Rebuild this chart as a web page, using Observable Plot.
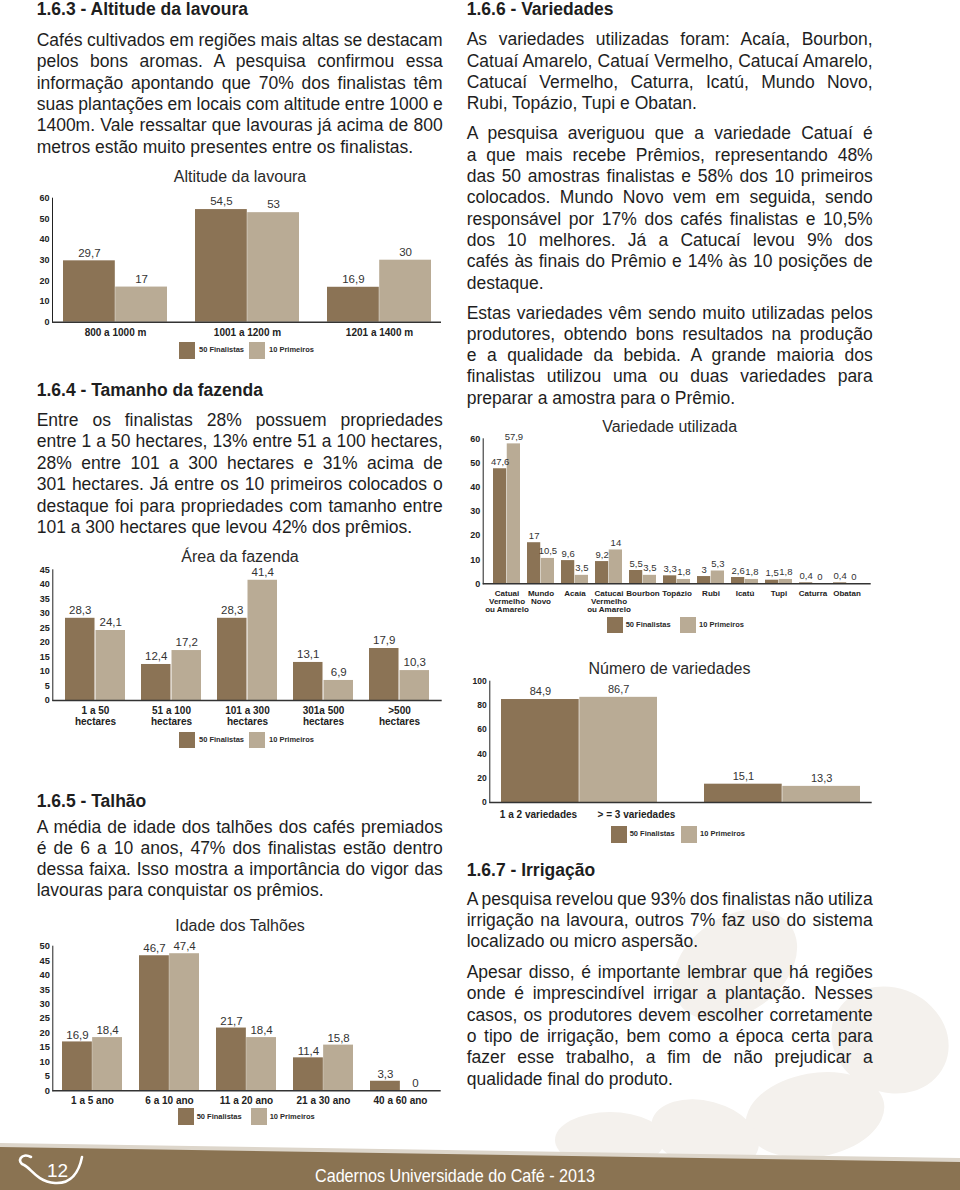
<!DOCTYPE html>
<html><head><meta charset="utf-8">
<script src="https://cdn.jsdelivr.net/npm/d3@7"></script>
<script src="https://cdn.jsdelivr.net/npm/@observablehq/plot@0.6"></script>
<style>
html,body{margin:0;padding:0;background:#fff;}
#page{position:relative;width:960px;height:1190px;overflow:hidden;font-family:"Liberation Sans",Arial,sans-serif;color:#1e1e1e;}
.line{position:absolute;white-space:nowrap;font-size:17.5px;height:22px;line-height:22px;}
.head{font-weight:bold;}
.title{position:absolute;width:400px;text-align:center;font-size:16px;line-height:20px;height:20px;color:#2a2a2a;white-space:nowrap;}
.sq{position:absolute;}
.lgt{position:absolute;font-size:7.5px;font-weight:bold;line-height:12px;height:12px;white-space:nowrap;color:#2a2a2a;}
.chart{position:absolute;}
</style></head><body><div id="page"></div>
<script>
// ---------- data ----------
const series = ["50 Finalistas", "10 Primeiros"];

const altCats = ["800 a 1000 m", "1001 a 1200 m", "1201 a 1400 m"];
const altFin = [29.7, 54.5, 16.9];
const altPri = [17, 53, 30];

const areaCats = ["1 a 50\nhectares", "51 a 100\nhectares", "101 a 300\nhectares", "301a 500\nhectares", ">500\nhectares"];
const areaFin = [28.3, 12.4, 28.3, 13.1, 17.9];
const areaPri = [24.1, 17.2, 41.4, 6.9, 10.3];

const idadeCats = ["1 a 5 ano", "6 a 10 ano", "11 a 20 ano", "21 a 30 ano", "40 a 60 ano"];
const idadeFin = [16.9, 46.7, 21.7, 11.4, 3.3];
const idadePri = [18.4, 47.4, 18.4, 15.8, 0];

const varCats = ["Catuai\nVermelho\nou Amarelo", "Mundo\nNovo", "Acaía", "Catucai\nVermelho\nou Amarelo", "Bourbon", "Topázio", "Rubi", "Icatú", "Tupi", "Caturra", "Obatan"];
const varFin = [47.6, 17, 9.6, 9.2, 5.5, 3.3, 3, 2.6, 1.5, 0.4, 0.4];
const varPri = [57.9, 10.5, 3.5, 14, 3.5, 1.8, 5.3, 1.8, 1.8, 0, 0];

const numCats = ["1 a 2 variedades", "> = 3 variedades"];
const numFin = [84.9, 15.1];
const numPri = [86.7, 13.3];

// ---------- text ----------
const txt163 = ["Cafés cultivados em regiões mais altas se destacam","pelos bons aromas. A pesquisa confirmou essa","informação apontando que 70% dos finalistas têm","suas plantações em locais com altitude entre 1000 e","1400m. Vale ressaltar que lavouras já acima de 800","metros estão muito presentes entre os finalistas."];
const txt164 = ["Entre os finalistas 28% possuem propriedades","entre 1 a 50 hectares, 13% entre 51 a 100 hectares,","28% entre 101 a 300 hectares e 31% acima de","301 hectares. Já entre os 10 primeiros colocados o","destaque foi para propriedades com tamanho entre","101 a 300 hectares que levou 42% dos prêmios."];
const txt165 = ["A média de idade dos talhões dos cafés premiados","é de 6 a 10 anos, 47% dos finalistas estão dentro","dessa faixa. Isso mostra a importância do vigor das","lavouras para conquistar os prêmios."];
const txt166a = ["As variedades utilizadas foram: Acaía, Bourbon,","Catuaí Amarelo, Catuaí Vermelho, Catucaí Amarelo,","Catucaí Vermelho, Caturra, Icatú, Mundo Novo,","Rubi, Topázio, Tupi e Obatan."];
const txt166b = ["A pesquisa averiguou que a variedade Catuaí é","a que mais recebe Prêmios, representando 48%","das 50 amostras finalistas e 58% dos 10 primeiros","colocados. Mundo Novo vem em seguida, sendo","responsável por 17% dos cafés finalistas e 10,5%","dos 10 melhores.  Já a Catucaí levou 9% dos","cafés às finais do Prêmio e 14% às 10 posições de","destaque."];
const txt166c = ["Estas variedades vêm sendo muito utilizadas pelos","produtores, obtendo bons resultados na produção","e a qualidade da bebida. A grande maioria dos","finalistas utilizou uma ou duas variedades para","preparar a amostra para o Prêmio."];
const txt167a = ["A pesquisa revelou que 93% dos finalistas não utiliza","irrigação na lavoura, outros 7% faz uso do sistema","localizado ou micro aspersão."];
const txt167b = ["Apesar disso, é importante lembrar que há regiões","onde é imprescindível irrigar a plantação. Nesses","casos, os produtores devem escolher corretamente","o tipo de irrigação, bem como a época certa para","fazer esse trabalho, a fim de não prejudicar a","qualidade final do produto."];

const DARK = "#8b7355", LIGHT = "#b9ab95", AXIS = "#333";
const page = document.getElementById("page");

// ---------- background decoration ----------
const deco = document.createElementNS("http://www.w3.org/2000/svg","svg");
deco.setAttribute("width","960"); deco.setAttribute("height","1190");
deco.style.position="absolute"; deco.style.left="0"; deco.style.top="0";
deco.innerHTML = `
<g fill="#f4f1ed">
<ellipse cx="735" cy="965" rx="68" ry="48" transform="rotate(-35 735 965)"/>
<ellipse cx="890" cy="1040" rx="60" ry="52" transform="rotate(25 890 1040)"/>
<ellipse cx="815" cy="1115" rx="70" ry="42" transform="rotate(-10 815 1115)"/>
<ellipse cx="610" cy="1140" rx="55" ry="28"/>
<ellipse cx="705" cy="1135" rx="55" ry="34" transform="rotate(15 705 1135)"/>
</g>
<polygon points="0,1143 960,1158 960,1163 0,1148" fill="#ddd6cb"/>
<polygon points="0,1147 960,1162 960,1190 0,1190" fill="#8a7352"/>
<path d="M31,1157 C21,1152 16,1162 24,1165 C31,1168 36,1181 55,1183 C71,1184 79,1172 82,1157" stroke="#fff" stroke-width="2.6" fill="none" stroke-linecap="round"/>
`;
page.appendChild(deco);

function addDiv(cls, text, left, top, extra) {
  const d = document.createElement("div");
  d.className = cls; d.textContent = text;
  d.style.left = left + "px"; d.style.top = top + "px";
  if (extra) Object.assign(d.style, extra);
  page.appendChild(d);
  return d;
}

// footer texts
addDiv("line", "12", 47, 1160, {color:"#fff", fontSize:"19px"});
const foot = addDiv("line", "Cadernos Universidade do Café - 2013", 0, 1165, {color:"#fff", fontSize:"18.5px", transformOrigin:"0 50%"});
{ const w = foot.getBoundingClientRect().width; const s = 280 / w; foot.style.transform = `scaleX(${s})`; foot.style.left = (315) + "px"; }

// ---------- text blocks ----------
function heading(text, x, cy) { addDiv("line head", text, x, cy - 11); }
function paragraph(lines, x, width, cy0, lh) {
  lines.forEach((t, i) => {
    const d = addDiv("line", t.replace(/\s+/g," "), x, cy0 + i*lh - 11);
    if (i < lines.length - 1) {
      const nat = d.getBoundingClientRect().width;
      const spaces = t.trim().split(/\s+/).length - 1;
      if (spaces > 0) d.style.wordSpacing = ((width - nat) / spaces) + "px";
    }
  });
}
const LX = 36.7, RX = 466.7, TW = 406;
heading("1.6.3 - Altitude da lavoura", LX, 9);
paragraph(txt163, LX, TW, 40, 21.35);
heading("1.6.4 - Tamanho da fazenda", LX, 390);
paragraph(txt164, LX, TW, 420, 21.4);
heading("1.6.5 - Talhão", LX, 800.7);
paragraph(txt165, LX, TW, 826.7, 21.2);
heading("1.6.6 - Variedades", RX, 9.3);
paragraph(txt166a, RX, TW, 39.3, 21.2);
paragraph(txt166b, RX, TW, 133.3, 21.35);
paragraph(txt166c, RX, TW, 312.7, 21.25);
heading("1.6.7 - Irrigação", RX, 870);
paragraph(txt167a, RX, TW, 898.8, 21);
paragraph(txt167b, RX, TW, 972, 21.3);

// ---------- charts ----------
const fmt = v => String(v).replace(".", ",");
function title(text, cx, cy) { addDiv("title", text, cx - 200, cy - 10); }
function legend(x1, x2, top, h, gap) {
  [[x1, DARK, series[0]], [x2, LIGHT, series[1]]].forEach(([x, col, s]) => {
    addDiv("sq", "", x, top, {width:"16px", height: h + "px", background: col});
    addDiv("lgt", s, x + 16 + gap, top + h/2 - 6);
  });
}
function chart(c) {
  const n = c.cats.length;
  const step = (c.eN - c.s1 - c.bw) / (n - 1);
  const pI = 1 - c.bw / step;
  const pO = ((c.axisR - c.axisL) - (c.eN - c.s1)) / 2 / step;
  const rows = c.cats.map((cat, i) => ({cat, fin: c.fin[i], pri: c.pri[i]}));
  const valOpts = {fontSize: c.valFs, fontWeight: "normal", fill: "#333", dy: c.valDy};
  const xlab = {frameAnchor: "bottom", lineAnchor: "top", lineHeight: c.xLh, dy: c.xCy - c.y0 - 0.35 * c.xFs, fontSize: c.xFs, fontWeight: "bold", fill: "#222", text: "cat", x: "cat"};
  const labelMarks = c.labelDx
    ? rows.map((r, i) => Plot.text([r], {...xlab, dx: c.labelDx[i]}))
    : [Plot.text(rows, xlab)];
  const svg = Plot.plot({
    width: c.width, height: c.height,
    marginLeft: c.axisL - c.left, marginRight: c.left + c.width - c.axisR,
    marginTop: c.yTop - c.top, marginBottom: c.top + c.height - c.y0,
    style: {background: "transparent", fontFamily: '"Liberation Sans",Arial,sans-serif', fontSize: c.tickFs + "px", fontWeight: "bold", color: "#222", overflow: "visible"},
    x: {domain: c.cats, paddingInner: pI, paddingOuter: pO, axis: null},
    y: {domain: [0, c.yMax], ticks: d3.range(0, c.yMax + 1e-9, c.yStep), tickSize: 0, tickPadding: 3, line: true, label: null, tickFormat: d => String(d)},
    marks: [
      Plot.barY(rows, {x: "cat", y: "fin", fill: DARK, insetRight: c.bw / 2}),
      Plot.barY(rows, {x: "cat", y: "pri", fill: LIGHT, insetLeft: c.bw / 2}),
      Plot.ruleY([0], {stroke: AXIS, strokeWidth: 1.6}),
      Plot.text(rows, {x: "cat", y: "fin", text: d => fmt(d.fin), dx: -c.bw / 4, ...valOpts}),
      Plot.text(rows, {x: "cat", y: "pri", text: d => fmt(d.pri), dx: c.bw / 4, ...valOpts}),
      ...labelMarks
    ]
  });
  svg.classList.add("chart");
  svg.style.left = c.left + "px"; svg.style.top = c.top + "px"; svg.style.position = "absolute";
  page.appendChild(svg);
}

// Altitude da lavoura
title("Altitude da lavoura", 240, 176.5);
chart({cats: altCats, fin: altFin, pri: altPri, yMax: 60, yStep: 10,
  left: 0, top: 180, width: 450, height: 160, axisL: 52, axisR: 441, yTop: 197.7, y0: 321.7,
  s1: 61.7, eN: 431.7, bw: 104.4, tickFs: 9, valFs: 11.5, valDy: -8, xFs: 10, xLh: 1.2, xCy: 330});
legend(179, 249, 341.7, 17, 4);

// Área da fazenda
title("Área da fazenda", 240, 556.5);
chart({cats: areaCats, fin: areaFin, pri: areaPri, yMax: 45, yStep: 5,
  left: 0, top: 555, width: 450, height: 175, axisL: 52.3, axisR: 441.7, yTop: 569.3, y0: 700,
  s1: 62.3, eN: 431, bw: 61, tickFs: 9, valFs: 11.5, valDy: -8, xFs: 10, xLh: 1.17, xCy: 708.3});
legend(179, 249, 731.7, 16.6, 4);

// Idade dos Talhões
title("Idade dos Talhões", 240, 926);
chart({cats: idadeCats, fin: idadeFin, pri: idadePri, yMax: 50, yStep: 5,
  left: 0, top: 930, width: 450, height: 176, axisL: 52.3, axisR: 440.7, yTop: 945.7, y0: 1090.3,
  s1: 61.7, eN: 430, bw: 60.3, tickFs: 9.3, valFs: 11.5, valDy: -7, xFs: 10, xLh: 1.2, xCy: 1098.3});
legend(177.7, 250.7, 1108, 17, 3);

// Variedade utilizada
title("Variedade utilizada", 669.7, 427);
chart({cats: varCats, fin: varFin, pri: varPri, yMax: 60, yStep: 10,
  left: 460, top: 425, width: 420, height: 190, axisL: 482.7, axisR: 870.7, yTop: 438.3, y0: 583.3,
  s1: 491, eN: 861, bw: 27.5, tickFs: 9, valFs: 9.5, valDy: -7, xFs: 8, xLh: 1.0, xCy: 592.7});
legend(606.7, 680, 617.3, 16, 3);

// Número de variedades
title("Número de variedades", 669.5, 668.5);
chart({cats: numCats, fin: numFin, pri: numPri, yMax: 100, yStep: 20,
  left: 460, top: 670, width: 420, height: 152, axisL: 489.3, axisR: 871.7, yTop: 680.7, y0: 802,
  s1: 497.7, eN: 857.7, bw: 156.6, tickFs: 8.5, valFs: 11, valDy: -8, xFs: 10, xLh: 1.2, xCy: 812.3,
  labelDx: [-41, -146]});
legend(610.7, 681, 826, 16.7, 3);
</script></body></html>
